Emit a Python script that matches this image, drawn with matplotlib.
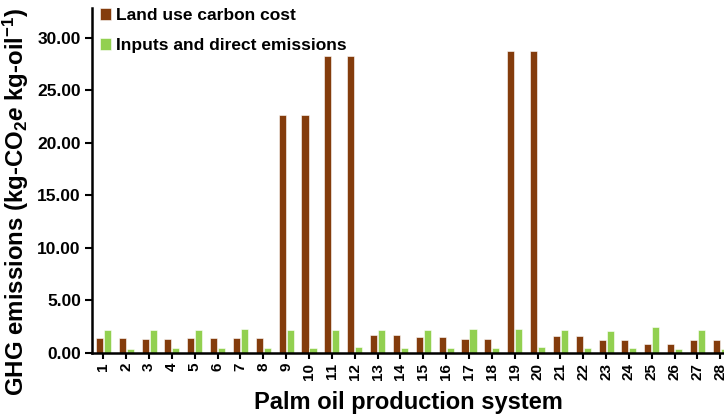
import numpy as np
from matplotlib import pyplot as plt

plt.rcParams['font.family'] = ['Liberation Sans', 'DejaVu Sans']
plt.rcParams['font.weight'] = 'bold'
plt.rcParams['mathtext.fontset'] = 'custom'
plt.rcParams['mathtext.rm'] = 'Liberation Sans:bold'
plt.rcParams['mathtext.it'] = 'Liberation Sans:style=italic:weight=bold'
plt.rcParams['mathtext.bf'] = 'Liberation Sans:bold'

systems = [str(i) for i in range(1, 29)]
land_use = [1.43, 1.43, 1.30, 1.30, 1.40, 1.40, 1.40, 1.40, 22.64, 22.64,
            28.32, 28.32, 1.75, 1.75, 1.50, 1.50, 1.37, 1.37, 28.73, 28.73,
            1.59, 1.59, 1.24, 1.24, 0.83, 0.83, 1.24, 1.24]
inputs = [2.16, 0.38, 2.16, 0.48, 2.16, 0.44, 2.29, 0.44, 2.19, 0.44,
          2.22, 0.60, 2.22, 0.48, 2.16, 0.48, 2.32, 0.44, 2.32, 0.54,
          2.19, 0.48, 2.13, 0.48, 2.48, 0.38, 2.22, 0.38]

x = np.arange(1, len(systems) + 1)
w = 0.31

fig = plt.figure(figsize=(7.24, 4.15), dpi=100)
ax = fig.add_axes([0.127, 0.1494, 0.873, 0.8313])
ax.bar(x - w / 2 - 0.02, land_use, w, color='#843C0C', edgecolor='white', linewidth=0.4,
       label='Land use carbon cost')
ax.bar(x + w / 2 + 0.02, inputs, w, color='#92D050', edgecolor='white', linewidth=0.4,
       label='Inputs and direct emissions')

ax.set_xlim(0.5, 28.16)
ax.set_ylim(0, 32.85)
ax.set_yticks(np.arange(0, 31, 5))
ax.set_yticklabels([f'{v:.2f}' for v in np.arange(0, 31, 5)], fontsize=12.5, fontweight='bold')
ax.set_xticks(x)
ax.set_xticklabels(systems, rotation=90, fontsize=11, fontweight='bold')
ax.tick_params(axis='y', direction='out', length=5, width=1.5, pad=3)
ax.tick_params(axis='x', direction='out', length=4, width=1.5, pad=3)
for s in ['top', 'right']:
    ax.spines[s].set_visible(False)
for s in ['left', 'bottom']:
    ax.spines[s].set_linewidth(1.8)

ax.set_xlabel('Palm oil production system', fontsize=17, fontweight='bold', labelpad=8)
ax.set_ylabel(r'GHG emissions (kg-CO$_2$$\mathit{e}$ kg-oil$^{-1}$)', fontsize=17.3,
              fontweight='bold')
ax.yaxis.set_label_coords(-0.097, 0.438)

leg = ax.legend(loc='upper left', bbox_to_anchor=(-0.012, 1.045), frameon=False,
                handlelength=0.65, handleheight=0.65, handletextpad=0.3,
                labelspacing=0.85, prop={'size': 12.5, 'weight': 'bold'})

plt.savefig('out.png', dpi=100)
plt.close()
